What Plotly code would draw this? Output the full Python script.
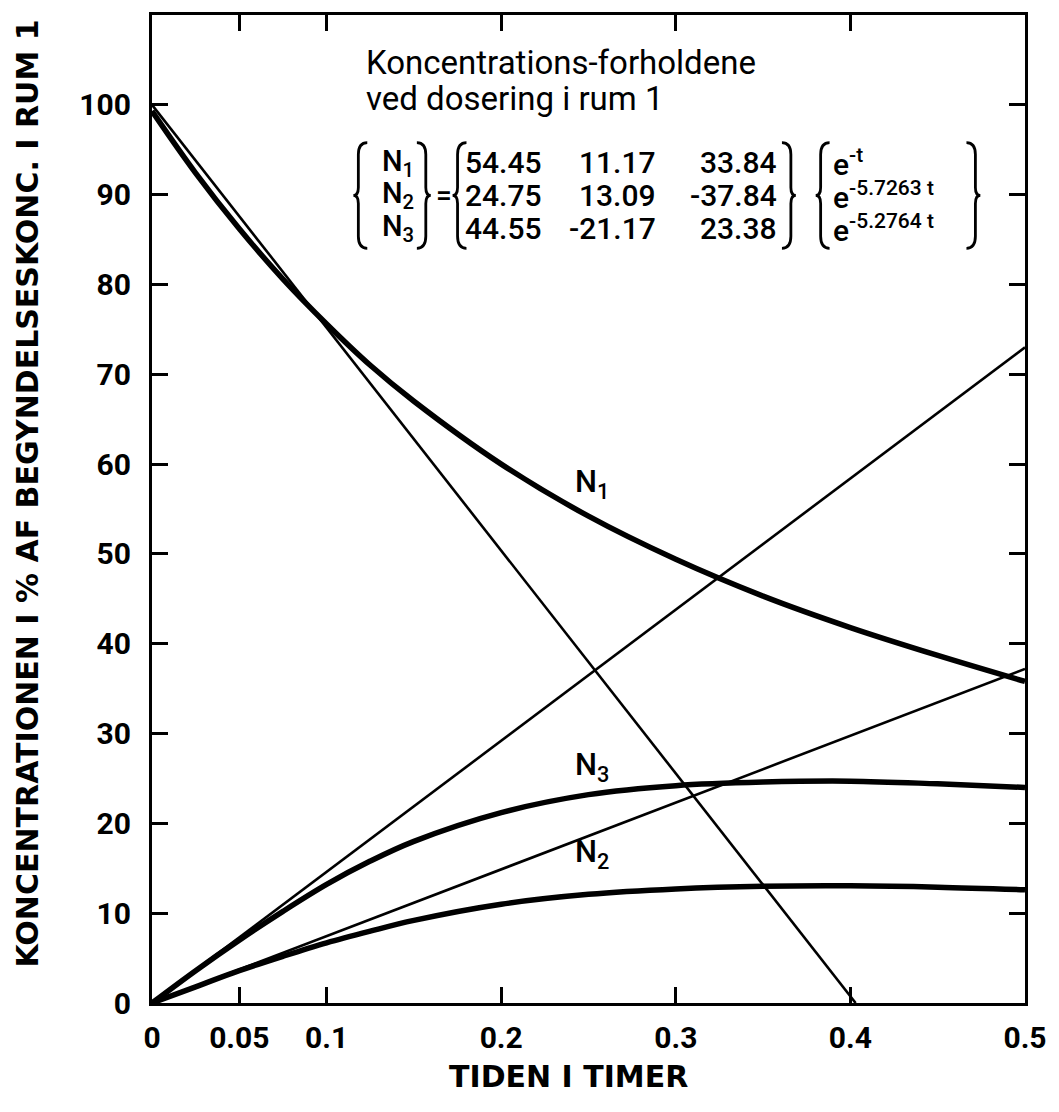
import plotly.graph_objects as go

# ---- data ----
t = [0, 0.025, 0.05, 0.075, 0.1, 0.125, 0.15, 0.2, 0.25, 0.3, 0.35, 0.4, 0.45, 0.5]
N1 = [99.3, 92.4, 86.2, 80.6, 75.6, 71.0, 67.0, 60.0, 54.2, 49.4, 45.3, 41.8, 38.7, 35.8]
N3 = [0, 3.6, 7.0, 10.2, 13.2, 15.8, 18.0, 21.2, 23.2, 24.2, 24.6, 24.7, 24.4, 24.0]
N2 = [0, 1.8, 3.6, 5.2, 6.7, 8.0, 9.2, 11.0, 12.1, 12.7, 13.0, 13.05, 12.9, 12.6]

tan1_t = [0, 0.403]
tan1_v = [100, 0]
tan3_t = [0, 0.5]
tan3_v = [0, 73.0]
tan2_t = [0, 0.5]
tan2_v = [0, 37.2]

x_tickvals = [0, 0.05, 0.1, 0.2, 0.3, 0.4, 0.5]
x_ticktext = ["0", "0.05", "0.1", "0.2", "0.3", "0.4", "0.5"]
y_tickvals = [0, 10, 20, 30, 40, 50, 60, 70, 80, 90, 100]
y_ticktext = [str(v) for v in y_tickvals]

title_lines = ["Koncentrations-forholdene", "ved dosering i rum 1"]
row_names = ["N<sub>1</sub>", "N<sub>2</sub>", "N<sub>3</sub>"]
coef = [["54.45", "11.17", "33.84"],
        ["24.75", "13.09", "-37.84"],
        ["44.55", "-21.17", "23.38"]]
expo = ["e<sup>-t</sup>", "e<sup>-5.7263 t</sup>", "e<sup>-5.2764 t</sup>"]
curve_labels = ["N<sub>1</sub>", "N<sub>3</sub>", "N<sub>2</sub>"]
label_t = [0.252, 0.252, 0.252]
label_v = [57.8, 26.3, 16.6]

FONT = "Roboto"
W, H = 1059, 1112
L, R, T, B = 152, 27, 12, 109
PW, PH = W - L - R, H - T - B


def pxx(px):
    return (px - L) / PW


def pxy(py):
    return (H - B - py) / PH


def txt(px, py, text, size=30, anchor="left", weight=500, family=FONT, **kw):
    return dict(xref="paper", yref="paper", x=pxx(px), y=pxy(py), text=text, showarrow=False,
                xanchor=anchor, yanchor="middle",
                font=dict(family=family, size=size, color="black", weight=weight), **kw)


fig = go.Figure()
thin = dict(color="black", width=2.6)
thick = dict(color="black", width=5.5, shape="spline")
for xs, ys in [(tan1_t, tan1_v), (tan3_t, tan3_v), (tan2_t, tan2_v)]:
    fig.add_trace(go.Scatter(x=xs, y=ys, mode="lines", line=thin, hoverinfo="skip"))
for ys in [N1, N3, N2]:
    fig.add_trace(go.Scatter(x=t, y=ys, mode="lines", line=thick, hoverinfo="skip"))

ann = []
for lbl, tx, vy in zip(curve_labels, label_t, label_v):
    ann.append(dict(x=tx, y=vy, text=lbl, showarrow=False,
                    font=dict(family=FONT, size=31, color="black", weight=500)))

# title text
ann.append(txt(366, 60, title_lines[0], size=33, weight=400))
ann.append(txt(366, 96, title_lines[1], size=33, weight=400))

rows_py = [160, 193, 226]
col_right = [547, 662, 784]
for i in range(3):
    yy = rows_py[i]
    ann.append(txt(382, yy, row_names[i], size=29))
    for j in range(3):
        ann.append(txt(col_right[j], yy, coef[i][j], size=30, anchor="right"))
    ann.append(txt(836, yy, expo[i], size=30))
ann.append(txt(446, 193, "=", size=28, anchor="center"))

# axis titles
ann.append(txt(572, 1077, "TIDEN I TIMER", size=30, anchor="center", weight="bold", family="DejaVu Sans"))
ann.append(dict(xref="paper", yref="paper", x=pxx(27), y=pxy(492), xanchor="center", yanchor="middle",
                text="KONCENTRATIONEN I % AF BEGYNDELSESKONC. I RUM 1", textangle=-90, showarrow=False,
                font=dict(family="DejaVu Sans", size=30, color="black", weight="bold")))


def brace(xc, top, bot, left=True, w=9):
    s = 1 if left else -1
    mid = (top + bot) / 2
    r = 12
    p = [(xc + s * w, top), (xc, top), (xc, top + r), (xc, mid - 8), (xc, mid), (xc - s * 5, mid),
         (xc, mid), (xc, mid + 8), (xc, bot - r), (xc, bot), (xc + s * w, bot)]
    P = [(pxx(a), pxy(b)) for a, b in p]
    d = (f"M{P[0][0]},{P[0][1]} Q{P[1][0]},{P[1][1]} {P[2][0]},{P[2][1]} L{P[3][0]},{P[3][1]} "
         f"Q{P[4][0]},{P[4][1]} {P[5][0]},{P[5][1]} Q{P[6][0]},{P[6][1]} {P[7][0]},{P[7][1]} "
         f"L{P[8][0]},{P[8][1]} Q{P[9][0]},{P[9][1]} {P[10][0]},{P[10][1]}")
    return dict(type="path", path=d, xref="paper", yref="paper", line=dict(color="black", width=2.8))


top_b, bot_b = 140, 246
shapes = [brace(360, top_b, bot_b, True), brace(428, top_b, bot_b, False),
          brace(460, top_b, bot_b, True), brace(796, top_b, bot_b, False),
          brace(826, top_b, bot_b, True), brace(982, top_b, bot_b, False)]

axis_common = dict(ticks="inside", ticklen=16, tickwidth=3, tickcolor="black", showline=True,
                   linewidth=3, linecolor="black", mirror="ticks", showgrid=False, zeroline=False,
                   tickfont=dict(family=FONT, size=30, color="black", weight="bold"))
fig.update_layout(
    width=W, height=H, margin=dict(l=L, r=R, t=T, b=B),
    paper_bgcolor="white", plot_bgcolor="white", showlegend=False,
    annotations=ann, shapes=shapes,
    xaxis=dict(range=[0, 0.5], tickvals=x_tickvals, ticktext=x_ticktext, ticklabelstandoff=6, **axis_common),
    yaxis=dict(range=[0, 110], tickvals=y_tickvals, ticktext=y_ticktext, ticklabelstandoff=12, **axis_common),
)
fig.write_html("out.html")
